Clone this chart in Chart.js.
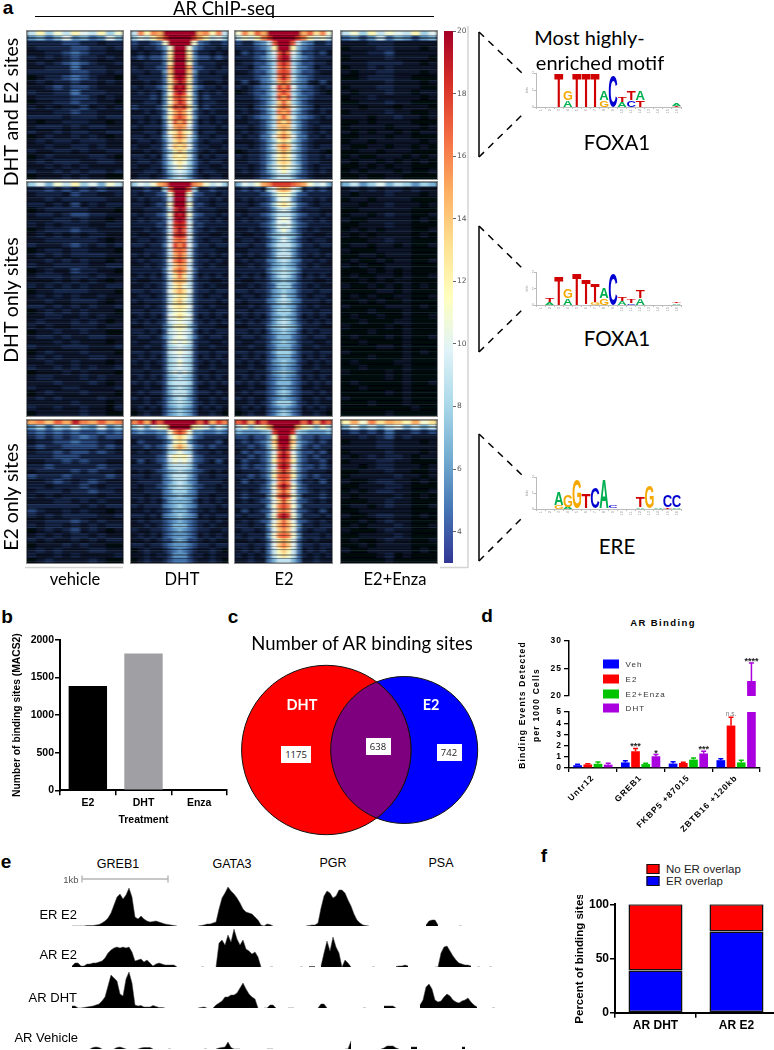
<!DOCTYPE html>
<html>
<head>
<meta charset="utf-8">
<script src="https://cdn.jsdelivr.net/npm/chart.js@4"></script>
<style>
  html, body { margin: 0; padding: 0; background: #fff; }
  #page { position: relative; width: 774px; height: 1050px; overflow: hidden; font-family: "Liberation Sans", Arial, sans-serif; }
  canvas { position: absolute; }
  .heat { position: absolute; overflow: hidden; background: #0a1020; outline: 1px solid #8a8a8a; }
  .heat canvas { left: 0; top: 0; filter: url(#streak); }
  /* fine read streaks over the coarse cells */
  .heat::after { content: ""; position: absolute; left: 0; top: 0; right: 0; bottom: 0;
    background: repeating-linear-gradient(180deg, rgba(0,0,0,.38) 0 1px, transparent 1px 3px, rgba(150,190,230,.1) 3px 4px, rgba(0,0,0,.25) 4px 5px, transparent 5px 6px, rgba(0,0,0,.45) 6px 8px, rgba(150,190,230,.08) 8px 9px, transparent 9px 11px, rgba(0,0,0,.3) 11px 12px, transparent 12px 14px, rgba(0,0,0,.4) 14px 15px, rgba(150,190,230,.12) 15px 16px, transparent 16px 19px, rgba(0,0,0,.32) 19px 21px, transparent 21px 23px); }
  .txt { position: absolute; white-space: nowrap; transform: translate(-50%, -50%); }
  .box { position: absolute; background: #fff; text-align: center; color: #222; font: 9.5px "Open Sans", sans-serif; }
</style>
</head>
<body>
<div id="page">
  <svg width="774" height="1050" style="position:absolute;left:0;top:0" fill="none" stroke="#000">
    <defs><filter id="streak" x="0" y="0" width="100%" height="100%"><feGaussianBlur stdDeviation="1.6 0.5" edgeMode="duplicate"/></filter></defs>
    <path d="M35 16.5H434" stroke-width="1"/>
    <path d="M479 32V157M479 226V352M479 434V561" stroke-width="1.6" stroke="#111"/>
    <path d="M479 32L522 73M479 157L522 115M479 226L522 268M479 352L522 310M479 434L522 475M479 561L522 518" stroke-width="1.5" stroke-dasharray="7 6"/>
    <path d="M468 26V568M440 567.5H468M25 567.5H123" stroke="#d4d4d4" stroke-width="1.5"/>
    <path d="M82 875.5V882.5M168 875.5V882.5" stroke="#999" stroke-width="1"/>
    <path d="M82 879H168" stroke="#b4b4b4" stroke-width="1.5"/>
  </svg>
</div>
<script>
// ---- panel a: heatmap rows, one char per cell, base36 = level on the colour bar (0-20)
const vehTop = ["9c8b9ca9c8b","6757a6756a7","33334433233","23333443323","22334543322","32323433232","23234543223","22333533322","33333443323","12334543221","23233433232","22343443222","32233533322","23333443232","12233433221","32323342323","22233433222","33332333233","21223332212","23332323322","32232332233","12322323212","23233233322","22322332322","32233232233","12322223321","23233322332","22323232222","32232323323","12223232211"];
const dhtTop = ["9gcgfkkkkkkkfgcg9","8a9cfikkkkkifc9a8","43345bkkkkkb54334","323346bkkkb643323","232335ckkkc533232","343446dkkkd644343","223335ckkkc533322","323345fkkkf543323","332336ekkke633233","233335djkjd533332","223235chkic532232","323346dkjkd643323","232325bikib523232","333436chigc634333","223325bgjhb523322","433347dihid734333","223235bfhfb532322","332336cgigc633233","232325bhfhb523232","323335afgfa533323","223325bdgdb523322","332336aegea633233","2332359dfd9532332","322335aedea533223","2232358cec8532322","3323259dcd9523233","2332358bdb8532332","3223358aca8533223","22332479a97423322","23323468986432332"];
const e2Top = ["bgdhfkkkkkkkfhdgb","9bacgikkkkkigcab9","433569hkkkh965334","333457ckkkc754333","243447ahkha744342","3334579ikj9754333","2334468hjh8644332","3324569gig9654233","2234468hih8644322","3334569gjg9654333","2423568fhf8653242","323456aigia654323","1234468gig8644321","3334569hfh9654333","2223468ehe8643222","332457afhfa754233","2323468gfg8643232","3234569ehe9654323","2233468fdf8643322","3323469efe9643233","2323468dfd8643232","323356aegea653323","2223468cec8643222","3323469ege9643233","1233468dfd8643321","3233469cec9643323","2233468ded8643322","3323479bdb9743233","2323468aca8643232","22234579997543222"];
const enzaTop = ["9b8c9ba9c8a","56469576467","22233322222","12223322212","22233422222","12222322221","22233332212","12232322222","21223322212","11233322111","22222322212","12223322211","21222322122","12232222212","11222322111","22122212221","12222322112","22212232212","11212222111","12222122212","21212212122","11222122111","12212222212","21122122121","11221222111","12112221212","21221212121","11212122111","12122212112","11211221111"];
const vehMid = ["8a7b9c8a7b9","33434343433","23332433223","22323333322","33232423233","12333332221","23323443322","22233232212","32323332233","12333433222","23232323322","22333333212","32223432323","12332332221","23232333322","22323232212","32233332233","12322433221","23332332322","22232323212","32323232233","12233332221","23232322322","22322333212","33232323223","12323232221","22332232322","23222323212","32322333233","12232232211","23323223322","22232322212","32223332223","12322232221","23232223322","22322322212","32232323223","12223232221","23322232322","22232223212","32223322223","12322232221","23232222322","22222322212","32232232213","12222232211"];
const dhtMid = ["8a9bfgkkkkkgfb9a8","334338hkkkh833433","323345bkkkb543323","2323349kkk9433232","332344bkkkb443233","2233349ikj9433322","323345bkjkb543323","2323349jkj9433232","333344aijia443333","2232349hkh9432322","322334aijia433223","2332349ghg9432332","332335aigia533233","2233349ghg9433322","3232349fhf9432323","232334agiga433232","2232349egf9432322","333335afhfa533333","2323249dgd9423232","3223349efe9433223","2232349ceb9432322","332334adfda433233","2332349bdc9432332","3233349ceb9433323","223234acdca432322","3323349bcb9433233","232324abdba423232","3232349aba9432323","2233358bcb8533322","3323249aba9423233","2332358aba8532332","3223349bab9433223","22322489a98422322","3323349aba9433233","23232489a98423232","32323489b98432323","22322489a98422322","3323348a9a8433233","23232478987423232","32323489998432323","22322478987422322","23233479997433232","32322468986422323","22323478987432322","23232467876423232","12322467876422321"];
const e2Mid = ["7a9bfgiiiihgfb9a7","343438aefea834343","3333458bcb8543333","2323346aba6433232","3323458bdb8543233","22333469a96433322","32334579997543323","2323346aba6433232","3333457a9a7543333","22323469b96432322","32233578987533223","23323468a86432332","33233579997533233","22333468986433322","32323469996432323","23233568986533232","22323467876432322","33333578987533333","23232468986423232","32233467876433223","22323458885432322","33233467876433233","23323467976432332","32333568986533323","22323467876432322","33233468886433233","23232467876423232","32323468986432323","22333578987533322","33232467876423233","23323457775432332","32233467876433223","22322457775422322","33233468886433233","23232457775423232","32323467876432323","22322456765422322","33233467876433233","23232456765423232","32323457775432323","22322456765422322","23233457875433232","32322456765422323","22323468886432322","23232456765423232","12322457875422321"];
const enzaMid = ["7968a798687","23232332322","21222322212","12212222111","22122322212","11222222111","12212322112","21122222121","11222322111","12121222112","21212222121","11122322111","12212212112","21112222111","11221222111","12112122112","21211222111","11121212111","12112212112","11212122111","21121212121","11112212111","12121122112","11212112111","21111222121","11121112111","12112112112","11211122111","21111212111","11121112111","12111212112","11211112111","11112212111","21111112121","11121112111","12111122111","11211112111","21111212111","11111212111","12111112112","11211112111","11111212111","21111112111","11121112111","11111111211","11111211111"];
const vehLow = ["fgehfjgfhfg","68587a76a68","45454544545","34343454344","23344544332","34334444343","23343443432","33344433333","22334343322","33433333433","23333434332","43334333343","22343234322","33233343233","23332334332","32323333233","22233232322","33333323233","43223232212","32323333223","22333432322","32332323233","12323423212","23232332322","32322323233","12223232211","23232223322","32232322223","12322223211"];
const dhtLow = ["gifkhkkkkkkkhkfig","8a7abckkkkkcba7a8","565566bgigb665565","3333459cec9543333","2433346bdb6433342","3343459dfd9543433","23233489b98433232","333345acbca543333","2423459bab9543242","33333589998533333","23234578987543232","33233579997533233","23333568986533332","32334578987543323","22333568886533322","33233567876533233","23232467776423232","32333567876533323","22323457775432322","33232567876523233","23233456765433232","22323457775432322","32233456765433223","23232456665423232","22323446764432322","33233456665433233","12322345654322321","22323346664332322","12322345554322321"];
const e2Low = ["hjfkhkkkkkkkhkfjh","9b8bcfkkkkkfcb8b9","766678ikkki876667","443446ckkkc644344","343457ekkke754343","334347cjkjc743433","243446ahkha644342","334346bikib643433","243346chjhc643342","343446aikia644343","233346bgjgb643332","334346chihc643433","2423359gig9533242","333346bhkhb643333","232345afifa543232","343336bhjhb633343","232345aeiea543232","333336bgigb633333","242345afhfa543242","323336bikib633323","232345aehea543232","332336bfhfb633233","233235aegea532332","323336bghgb633323","223235adfda532322","332335aegea533233","2323259cec9523232","3232359bdb9532323","22322579997522322"];
const enzaLow = ["cfbgdfecfbd","7a7979a7979","34343533434","22323423222","12223322212","22223322222","12222322212","21232332122","12223322111","22123322212","11222322112","12222232212","21123322121","11222332111","12123322112","21222232121","11122322111","12212322112","11222222111","21123322121","11212322111","12122232112","21112322111","11222232111","12112322112","11212222111","21122222121","11112312111","11111211111"];

const heatStops = [[0,"#000000"],[1,"#05070f"],[2,"#0b1329"],[3,"#162648"],[4,"#2a4a7e"],[5,"#4270a8"],[6.4,"#6aa3cd"],[8.1,"#a4d4e7"],[9.8,"#e0f3f8"],[11.5,"#ffffbf"],[13.2,"#fee090"],[14.9,"#fdae61"],[16.6,"#f46d43"],[18.3,"#d73027"],[20,"#a50026"]];
const colorbarStops = [[3,"#313695"],[4.7,"#4575b4"],[6.4,"#74add1"],[8.1,"#abd9e9"],[9.8,"#e0f3f8"],[11.5,"#ffffbf"],[13.2,"#fee090"],[14.9,"#fdae61"],[16.6,"#f46d43"],[18.3,"#d73027"],[20,"#a50026"]];
const colorbarTicks = [4,6,8,10,12,14,16,18,20];

// ---- motif logos, low letter then the one stacked on it, height in bits
const motifPositions = ["1","2","3","4","5","6","7","8","9","10","11","12","13","14","15","16"];
const motif1Low = ["T","","T","A","T","T","T","G","C","A","C","T","T","","","T"];
const motif1LowBits = [0.05,0,2,0.4,2,2,2,0.4,1.85,0.3,0.4,0.4,0.05,0,0,0.08];
const motif1Top = ["","","","G","","","","A","","T","T","A","","","","A"];
const motif1TopBits = [0,0,0,0.55,0,0,0,0.55,0,0.3,0.5,0.55,0,0,0,0.14];
const motif2Low = ["","A","T","A","T","G","G","G","C","A","C","A","","","","A"];
const motif2LowBits = [0,0.2,1.73,0.42,1.95,0.05,0.2,0.4,1.9,0.22,0.12,0.45,0,0,0,0.1];
const motif2Top = ["","T","","G","","T","T","A","","T","T","T","","","","T"];
const motif2TopBits = [0,0.2,0,0.55,0,1.45,1.1,0.65,0,0.2,0.25,0.5,0,0,0,0.08];
const motif3Low = ["","","G","A","T","A","G","G","G","","","A","A","A","T","A"];
const motif3LowBits = [0,0,0.28,0.15,0.05,0.08,0.05,0.06,0.05,0,0,0.12,0.08,0.1,0.12,0.1];
const motif3Top = ["","","A","G","G","T","C","A","C","","","T","G","","C","C"];
const motif3TopBits = [0,0,0.78,0.7,1.75,0.92,1.28,1.78,0.15,0,0,0.62,1.4,0,0.7,0.7];

// ---- panel b
const treatments = ["E2","DHT","Enza"];
const bindingSites = [1388,1822,0];
const treatmentColors = ["#000000","#a0a0a4","#000000"];

// ---- panel c
const vennX = [91.3,169.2];
const vennY = [92,92];
const vennR = [84.7,73.5];

// ---- panel d
const loci = ["Untr12","GREB1","FKBP5 +87015","ZBTB16 +120kb"];
const treatNames = ["Veh","E2","E2+Enza","DHT"];
const vehEvents = [0.25,0.5,0.4,0.7];
const e2Events = [0.32,1.5,0.45,3.8];
const enzaEvents = [0.38,0.35,0.75,0.5];
const dhtEvents = [0.3,1.05,1.3,22.7];
const vehErr = [0.08,0.15,0.15,0.12];
const e2Err = [0.05,0.25,0.06,0.75];
const enzaErr = [0.15,0.08,0.15,0.2];
const dhtErr = [0.12,0.15,0.2,3.3];
const e2Sig = ["","***","","n.s."];
const dhtSig = ["","*","***","****"];

// ---- panel e, tracks on a shared bin axis, _ = no reads
const _ = null;
const trackBins = Array.from({length:144},(v,i)=>i);
const erE2Track = [0,0,0,0,0,.5,.5,.5,1,1.5,3,5,8,13,21,29,32,27,31,38,29,9,7,10,7,5,4,4.5,5,4,3,2,1.5,1,.5,0,
  _,_,_,_,_,_, 0,.5,1,2,2,3,4,17,28,33,39,35,32,28,23,17,14,13,12,9,6,1,0,2,1.5,0,
  _,_,_,_,_,_,_,_,_,_, 0,.5,1,1,3,18,30,35,33,28,30,36,36,33,26,20,12,6,3,1,.5,0,
  _,_,_,_,_,_,_,_,_,_,_,_,_,_,_,_,_,_, 1,5,6,6,1, _,_,_,_,_,_, 0,0, _,_,_,_,_,_,_,_,_,_,_,_,_];
const arE2Track = [1,4,4,1,1,3,3,4,4,5,6,9,14,17,19,20,19,20,19,20,15,6,7,8,5,7,4,1,3,4,3,2,2,2,2,0,
  _,_,_,_,_,_,_, 0,0, _,_,_, 0,24,27,22,32,25,38,28,22,27,18,16,13,15,10,0, _,_, 0,0, _,_,_,_,_,_,_,_, 0,0, _, .5,.5,.5, _,
  1,14,26,16,30,20,14,0,7,4,0, _,_,_,_,_,_, 0,0, _,_,_,_,_,_, .5,1,1,2,1, _,_,_,_,_,_,_,_, 0,
  0,14,20,21,16,11,7,4,3,2,2,1, _, 0,0, _,_, 0,0, _,_,_];
const arDhtTrack = [2,2,0,0,.5,1,1.5,2,3,4,7,11,22,33,30,27,14,12,29,36,25,3,2,2.5,1,1,1,2.5,1.5,.5,.5,0,
  _,_,_, 0, _,_,_,_,_,_, 0,.5,1,0, _, 0, 3,5,7,11,11,13,13,15,20,25,19,14,11,9,0, _, 0, 0,3,3,0, _,_,_, 0,0,0,
  _,_,_,_,_,_,_, 0,4,4,0, _,_,_,_,_,_,_,_,_,_,_, 0,0, _,_,_,_,_, 2,2,2,2,0, _,_,_,_,_,_,_,
  3,8,21,24,19,8,6,7,11,14,12,8,6,5,7,8,10,6,3,1, _,_,_,_, 0,0, _,_];
const arVehTrack = [_,_,_,_,_,_, 0,1.5,2,1.5,0, _,_,_, 0,1.5,2,1,0, _,_,_, 0,1,1.5,1.5,1.5,0, _,_,_,_, 0,0,
  _,_,_,_,_,_,_,_,_,_, 0,0, _,_, 0,1,1.5,2,7,1.5,0, 0,0, _,_,_,_,_,_,_,_, 0,0,0,
  _,_,_,_,_,_,_,_,_,_,_,_,_,_,_,_,_,_,_,_,_,_,_, 0,0,8, _,_,_,_,_,_,_,_,_, 0,1,3,3,3,1,0, _,_,_, 2,2,2,
  _,_,_,_,_,_,_,_,_,_,_,_,_,_, 2,2, _,_,_,_,_,_,_,_,_,_,_,_];

// ---- panel f
const samples = ["AR DHT","AR E2"];
const erOverlap = [39,75];
const noErOverlap = [61,25];

Chart.defaults.animation = false;
Chart.defaults.responsive = false;
Chart.defaults.font.family = '"Liberation Sans", Arial, sans-serif';
Chart.defaults.color = "#000";
Chart.defaults.plugins.legend.display = false;
Chart.defaults.plugins.tooltip.enabled = false;

const page = document.getElementById("page");

function addText(text, x, y, css) {
  const d = document.createElement("div");
  d.className = "txt";
  d.textContent = text;
  d.style.left = x + "px";
  d.style.top = y + "px";
  d.style.cssText += ";" + (css || "");
  page.appendChild(d);
  return d;
}

function addCanvas(left, top, width, height, parent) {
  const c = document.createElement("canvas");
  c.width = width;
  c.height = height;
  c.style.left = left + "px";
  c.style.top = top + "px";
  c.style.width = width + "px";
  c.style.height = height + "px";
  (parent || page).appendChild(c);
  return c;
}

function hexToRgb(h) {
  return [parseInt(h.slice(1,3),16), parseInt(h.slice(3,5),16), parseInt(h.slice(5,7),16)];
}

function levelColor(level) {
  for (let i = 1; i < heatStops.length; i++) {
    if (level <= heatStops[i][0]) {
      const a = heatStops[i-1], b = heatStops[i];
      const t = (level - a[0]) / (b[0] - a[0]);
      const ca = hexToRgb(a[1]), cb = hexToRgb(b[1]);
      return "rgb(" + ca.map((v,k) => Math.round(v + (cb[k]-v)*t)).join(",") + ")";
    }
  }
  return "#a50026";
}

function heatPanel(rows, left, top, width, height) {
  const wrap = document.createElement("div");
  wrap.className = "heat";
  wrap.style.cssText = "left:"+left+"px;top:"+top+"px;width:"+width+"px;height:"+height+"px";
  page.appendChild(wrap);
  const cols = rows[0].length;
  const datasets = [];
  // 17-column panels have finer bins round the peak centre
  const binWidth = c => (cols === 17 && (c < 5 || c > 11)) ? 1.3 : 1;
  let total = 0;
  for (let c = 0; c < cols; c++) {
    total += binWidth(c);
    datasets.push({
      data: rows.map(() => binWidth(c)),
      backgroundColor: rows.map(r => levelColor(parseInt(r[c] || "1", 36))),
      barPercentage: 1,
      categoryPercentage: 1,
      borderWidth: 0
    });
  }
  new Chart(addCanvas(0, 0, width, height, wrap), {
    type: "bar",
    data: { labels: rows.map((r,i) => i), datasets: datasets },
    options: {
      indexAxis: "y",
      layout: { padding: 0 },
      scales: {
        x: { display: false, stacked: true, min: 0, max: total },
        y: { display: false, stacked: true }
      }
    }
  });
}

const heatX = [[27,96],[131,97],[235,97],[341,96]];
const heatY = [[31,148],[182,234],[420,143]];
const heatRows = [
  [vehTop,dhtTop,e2Top,enzaTop],
  [vehMid,dhtMid,e2Mid,enzaMid],
  [vehLow,dhtLow,e2Low,enzaLow]
];
heatRows.forEach((blk,b) => blk.forEach((rows,p) => {
  heatPanel(rows, heatX[p][0], heatY[b][0], heatX[p][1], heatY[b][1]);
}));

// colour bar
new Chart(addCanvas(444, 25, 30, 545), {
  type: "bar",
  data: { labels: ["level"], datasets: [{
    data: [[3,20]],
    barPercentage: 1,
    categoryPercentage: 1,
    backgroundColor: function(ctx) {
      const area = ctx.chart.chartArea;
      if (!area) return "#000";
      const g = ctx.chart.ctx.createLinearGradient(0, area.bottom, 0, area.top);
      colorbarStops.forEach(s => g.addColorStop((s[0]-3)/17, s[1]));
      return g;
    }
  }]},
  options: {
    layout: { padding: { top: 6, bottom: 7 } },
    scales: {
      x: { display: false },
      y: {
        position: "right", min: 3, max: 20,
        afterBuildTicks: s => { s.ticks = colorbarTicks.map(v => ({value:v})); },
        afterFit: s => { s.width = 21; },
        grid: { drawOnChartArea: false, tickLength: 3, color: "#666" },
        border: { display: false },
        ticks: { color: "#555", padding: 1, font: { family: "DejaVu Sans", size: 7.5 } }
      }
    }
  }
});

// motif logos: bars stay invisible, letters get stretched into the bar boxes
const letterColors = { A:"#00b050", C:"#0000d0", G:"#f5a800", T:"#d00000" };
const letterPlugin = {
  id: "letters",
  afterDatasetsDraw(chart) {
    const ctx = chart.ctx;
    chart.data.datasets.forEach((ds,i) => {
      chart.getDatasetMeta(i).data.forEach((bar,j) => {
        const letter = ds.letters[j];
        const h = bar.base - bar.y;
        if (!letter || h < 0.8) return;
        ctx.save();
        ctx.font = "bold 40px 'Liberation Sans'";
        const m = ctx.measureText(letter);
        const lw = m.actualBoundingBoxRight + m.actualBoundingBoxLeft;
        const lh = m.actualBoundingBoxAscent + m.actualBoundingBoxDescent;
        ctx.translate(bar.x - bar.width/2, bar.base);
        ctx.scale(bar.width/lw, h/lh);
        ctx.fillStyle = letterColors[letter];
        ctx.fillText(letter, m.actualBoundingBoxLeft, -m.actualBoundingBoxDescent);
        ctx.restore();
      });
    });
  }
};

function motifChart(low, lowBits, top, topBits, y2, y0) {
  new Chart(addCanvas(524, y2-4, 166, y0-y2+18), {
    type: "bar",
    data: { labels: motifPositions, datasets: [
      { data: lowBits, letters: low, backgroundColor: "transparent", barPercentage: 1, categoryPercentage: 0.98 },
      { data: topBits, letters: top, backgroundColor: "transparent", barPercentage: 1, categoryPercentage: 0.98 }
    ]},
    options: {
      layout: { padding: { top: 4, right: 9 } },
      scales: {
        x: {
          stacked: true,
          afterFit: s => { s.height = 14; },
          grid: { drawOnChartArea: false, tickLength: 2, color: "#bbb" },
          border: { color: "#bbb" },
          ticks: { color: "#999", autoSkip: false, maxRotation: 90, minRotation: 90, padding: 0, font: { size: 4 } }
        },
        y: {
          stacked: true, min: 0, max: 2,
          afterFit: s => { s.width = 12; },
          grid: { drawOnChartArea: false, tickLength: 2, color: "#bbb" },
          border: { color: "#bbb" },
          title: { display: true, text: "bits", color: "#999", padding: 0, font: { size: 4 } },
          ticks: { color: "#999", stepSize: 1, padding: 0, font: { size: 4 } }
        }
      }
    },
    plugins: [letterPlugin]
  });
}
motifChart(motif1Low, motif1LowBits, motif1Top, motif1TopBits, 73, 107);
motifChart(motif2Low, motif2LowBits, motif2Top, motif2TopBits, 272, 305);
motifChart(motif3Low, motif3LowBits, motif3Top, motif3TopBits, 477, 509);

// panel b
new Chart(addCanvas(0, 630, 230, 200), {
  type: "bar",
  data: { labels: treatments, datasets: [{ data: bindingSites, backgroundColor: treatmentColors, barPercentage: 0.69, categoryPercentage: 1 }] },
  options: {
    layout: { padding: { top: 10, right: 3 } },
    scales: {
      x: {
        afterFit: s => { s.height = 39.7; },
        grid: { drawOnChartArea: false, tickLength: 5, color: "#000", lineWidth: 1.5 },
        border: { color: "#000", width: 2 },
        ticks: { font: { size: 10.5, weight: "bold" }, padding: 2 },
        title: { display: true, text: "Treatment", padding: { top: 0, bottom: 4 }, font: { size: 10.5, weight: "bold" } }
      },
      y: {
        min: 0, max: 2000,
        afterFit: s => { s.width = 60; },
        grid: { drawOnChartArea: false, tickLength: 5, color: "#000", lineWidth: 1.5 },
        border: { color: "#000", width: 2 },
        ticks: { stepSize: 500, padding: 1, callback: v => v, font: { size: 10.5, weight: "bold" } },
        title: { display: true, text: "Number of binding sites (MACS2)", padding: { top: 11, bottom: 0 }, font: { size: 10.3, weight: "bold" } }
      }
    }
  }
});

// panel c, overlap lens is clipped from the two bubbles
const vennPlugin = {
  id: "vennLens",
  afterDatasetsDraw(chart) {
    const a = chart.getDatasetMeta(0).data[0];
    const b = chart.getDatasetMeta(1).data[0];
    const ctx = chart.ctx;
    ctx.save();
    ctx.beginPath();
    ctx.arc(a.x, a.y, a.options.radius, 0, Math.PI*2);
    ctx.clip();
    ctx.beginPath();
    ctx.arc(b.x, b.y, b.options.radius, 0, Math.PI*2);
    ctx.fillStyle = "#7f007f";
    ctx.fill();
    ctx.strokeStyle = "#111";
    ctx.lineWidth = 1;
    ctx.stroke();
    ctx.restore();
    ctx.save();
    ctx.beginPath();
    ctx.arc(b.x, b.y, b.options.radius, 0, Math.PI*2);
    ctx.clip();
    ctx.beginPath();
    ctx.arc(a.x, a.y, a.options.radius, 0, Math.PI*2);
    ctx.strokeStyle = "#111";
    ctx.lineWidth = 1;
    ctx.stroke();
    ctx.restore();
  }
};
new Chart(addCanvas(235, 652, 260, 190), {
  type: "bubble",
  data: { datasets: [
    { data: [{x:vennX[0],y:vennY[0],r:vennR[0]}], backgroundColor: "#ff0000", borderColor: "#111", borderWidth: 1, clip: false },
    { data: [{x:vennX[1],y:vennY[1],r:vennR[1]}], backgroundColor: "#0000ff", borderColor: "#111", borderWidth: 1, clip: false }
  ]},
  options: {
    layout: { padding: 0, autoPadding: false },
    scales: {
      x: { display: false, min: 0, max: 260 },
      y: { display: false, min: 0, max: 190 }
    }
  },
  plugins: [vennPlugin]
});

// panel d, the broken axis is two charts on top of each other
const dSeriesColors = ["#0000ff","#ff0000","#00c400","#aa00e0"];
const dSeries = [vehEvents,e2Events,enzaEvents,dhtEvents];
const dErrors = [vehErr,e2Err,enzaErr,dhtErr];
const dSig = [[],e2Sig,[],dhtSig];

const errorPlugin = {
  id: "errorBars",
  beforeDraw(chart) { chart.ctx.letterSpacing = "1px"; },
  afterDatasetsDraw(chart) {
    const ctx = chart.ctx, yS = chart.scales.y, area = chart.chartArea;
    ctx.letterSpacing = "0px";
    chart.data.datasets.forEach((ds,i) => {
      chart.getDatasetMeta(i).data.forEach((bar,j) => {
        const top = dSeries[i][j] + dErrors[i][j];
        const onScale = top >= yS.min && top <= yS.max;
        ctx.save();
        ctx.beginPath();
        ctx.rect(area.left, area.top-2, area.width, area.height+2);
        ctx.clip();
        ctx.strokeStyle = ds.backgroundColor;
        ctx.lineWidth = 1.5;
        const y = yS.getPixelForValue(top);
        const y0 = yS.getPixelForValue(dSeries[i][j]);
        ctx.beginPath();
        ctx.moveTo(bar.x, y0);
        ctx.lineTo(bar.x, y);
        ctx.moveTo(bar.x-2.5, y);
        ctx.lineTo(bar.x+2.5, y);
        ctx.stroke();
        ctx.restore();
        const sig = dSig[i][j];
        if (sig && onScale) {
          ctx.save();
          ctx.textAlign = "center";
          ctx.fillStyle = sig === "n.s." ? "#777" : "#222";
          ctx.font = sig === "n.s." ? "6.5px 'Liberation Sans'" : "bold 9px 'Liberation Sans'";
          ctx.fillText(sig, bar.x, y + (sig === "n.s." ? -1 : 1));
          ctx.restore();
        }
      });
    });
    ctx.letterSpacing = "1px";
  }
};

function dDatasets() {
  return dSeries.map((values,i) => ({
    label: treatNames[i], data: values, backgroundColor: dSeriesColors[i],
    barPercentage: 0.85, categoryPercentage: 0.855
  }));
}
new Chart(addCanvas(500, 630, 265, 73), {
  type: "bar",
  data: { labels: loci, datasets: dDatasets() },
  options: {
    layout: { padding: { top: 11, right: 5, bottom: 3.3 } },
    scales: {
      x: { display: false },
      y: {
        min: 20, max: 30,
        afterFit: s => { s.width = 69; },
        grid: { drawOnChartArea: false, tickLength: 5, color: "#000", lineWidth: 1.3 },
        border: { color: "#000", width: 1.5 },
        ticks: { stepSize: 5, padding: 2, font: { size: 8.5, weight: "bold" } }
      }
    }
  },
  plugins: [errorPlugin]
});
new Chart(addCanvas(500, 705, 265, 137), {
  type: "bar",
  data: { labels: loci, datasets: dDatasets() },
  options: {
    layout: { padding: { top: 4.3, right: 5 } },
    scales: {
      x: {
        afterFit: s => { s.height = 74; },
        grid: { drawOnChartArea: false, tickLength: 4, color: "#000", lineWidth: 1.3 },
        border: { color: "#000", width: 1.5 },
        ticks: { autoSkip: false, maxRotation: 45, minRotation: 45, padding: 1, font: { size: 8.5, weight: "bold" } }
      },
      y: {
        min: 0, max: 5,
        afterFit: s => { s.width = 69; },
        grid: { drawOnChartArea: false, tickLength: 5, color: "#000", lineWidth: 1.3 },
        border: { color: "#000", width: 1.5 },
        ticks: { stepSize: 1, autoSkip: false, padding: 2, font: { size: 8.5, weight: "bold" } }
      }
    }
  },
  plugins: [errorPlugin]
});

// panel e, one line chart per row of tracks
function trackRow(values, baseline) {
  new Chart(addCanvas(72, baseline-45, 429, 45), {
    type: "line",
    data: { labels: trackBins, datasets: [{
      data: values, fill: "origin", backgroundColor: "#000", borderColor: "#444",
      borderWidth: 0.5, pointRadius: 0, spanGaps: false, clip: false
    }]},
    options: {
      layout: { padding: 0, autoPadding: false },
      scales: {
        x: { display: false },
        y: { display: false, min: 0, max: 45 }
      }
    }
  });
}
trackRow(erE2Track, 925.5);
trackRow(arE2Track, 966.5);
trackRow(arDhtTrack, 1007.5);
trackRow(arVehTrack, 1049);

// panel f
new Chart(addCanvas(540, 895, 237, 145), {
  type: "bar",
  data: { labels: samples, datasets: [
    { data: erOverlap, backgroundColor: "#0000ff", borderColor: "#111", borderWidth: 1.5, borderSkipped: false, barPercentage: 0.667, categoryPercentage: 1 },
    { data: noErOverlap, backgroundColor: "#ff0000", borderColor: "#111", borderWidth: 1.5, borderSkipped: false, barPercentage: 0.667, categoryPercentage: 1 }
  ]},
  options: {
    layout: { padding: { top: 9.3 } },
    scales: {
      x: {
        stacked: true,
        afterFit: s => { s.height = 27.3; },
        grid: { drawOnChartArea: false, tickLength: 5, color: "#000", lineWidth: 1.5 },
        border: { color: "#000", width: 2 },
        ticks: { padding: 1, font: { size: 12, weight: "bold" } }
      },
      y: {
        stacked: true, min: 0, max: 100,
        afterFit: s => { s.width = 75; },
        grid: { drawOnChartArea: false, tickLength: 5, color: "#000", lineWidth: 1.5 },
        border: { color: "#000", width: 2 },
        ticks: { stepSize: 50, padding: 1, font: { size: 12, weight: "bold" } },
        title: { display: true, text: "Percent of binding sites", padding: { top: 33, bottom: 0 }, font: { size: 11.5, weight: "bold" } }
      }
    }
  }
});

// text labels
const bold19 = "font-weight:bold;font-size:19px;";
addText("a", 8, 8, bold19);
addText("b", 7, 617, bold19);
addText("c", 233, 617, bold19);
addText("d", 487, 616, bold19);
addText("e", 6, 862, bold19);
addText("f", 544, 856, bold19);

addText("AR ChIP-seq", 224, 8, "font:18.5px Lato");
addText("DHT and E2 sites", 10, 112, "font:19.5px Lato;transform:translate(-50%,-50%) rotate(-90deg)");
addText("DHT only sites", 10, 300, "font:19.5px Lato;transform:translate(-50%,-50%) rotate(-90deg)");
addText("E2 only sites", 10, 497, "font:19.5px Lato;transform:translate(-50%,-50%) rotate(-90deg)");
addText("vehicle", 75, 579, "font:16.5px Lato");
addText("DHT", 182, 579, "font:16.5px Lato");
addText("E2", 284, 579, "font:16.5px Lato");
addText("E2+Enza", 395, 579, "font:16.5px Lato");
addText("Most highly-", 589.5, 37, "font:20px Lato");
addText("enriched motif", 600, 62, "font:20px Lato");
addText("FOXA1", 617, 142, "font:20.5px Lato");
addText("FOXA1", 617, 338, "font:20.5px Lato");
addText("ERE", 617, 546, "font:20.5px Lato");

addText("Number of AR binding sites", 362, 643, "font:18.5px Lato");
addText("DHT", 302, 704, "font:bold 14.5px Lato;color:#fff");
addText("E2", 431, 704, "font:bold 14.5px Lato;color:#fff");
function countBox(text, cx, cy, w, h) {
  const d = document.createElement("div");
  d.className = "box";
  d.textContent = text;
  d.style.cssText = "left:"+(cx-w/2)+"px;top:"+(cy-h/2)+"px;width:"+w+"px;height:"+h+"px;line-height:"+h+"px";
  page.appendChild(d);
}
countBox("1175", 296, 754, 30, 17);
countBox("638", 378, 746, 25, 17);
countBox("742", 449, 752.5, 25, 17);

const spaced = "font-weight:bold;letter-spacing:1.2px;font-size:8.5px;";
addText("AR Binding", 663, 622, "font-weight:bold;letter-spacing:1.4px;font-size:9.5px");
addText("Binding Events Detected", 522, 705, spaced + "transform:translate(-50%,-50%) rotate(-90deg)");
addText("per 1000 Cells", 535.5, 705, spaced + "transform:translate(-50%,-50%) rotate(-90deg)");
const dLegendY = [664,679,694,708];
treatNames.forEach((name,i) => {
  addText("", 611, dLegendY[i], "width:16px;height:9px;background:" + dSeriesColors[i]);
  addText(name, 625.5, dLegendY[i], "transform:translate(0,-50%);font-size:8px;letter-spacing:1.1px;color:#333");
});

addText("GREB1", 118, 864, "font-size:12.5px");
addText("GATA3", 232, 864, "font-size:12.5px");
addText("PGR", 333, 863, "font-size:12.5px");
addText("PSA", 441, 863, "font-size:12.5px");
addText("1kb", 71, 879, "font-size:9.5px;color:#555");
const rowRight = "transform:translate(-100%,-50%);font-size:13px";
addText("ER E2", 77, 914, rowRight);
addText("AR E2", 77, 954, rowRight);
addText("AR DHT", 77, 997, rowRight);
addText("AR Vehicle", 78, 1037, rowRight);

addText("", 653, 869, "width:11px;height:8px;background:#f00;border:1.5px solid #111");
addText("", 653, 881, "width:11px;height:8px;background:#00f;border:1.5px solid #111");
addText("No ER overlap", 666, 869, "transform:translate(0,-50%);font-size:11.5px;color:#222");
addText("ER overlap", 666, 881, "transform:translate(0,-50%);font-size:11.5px;color:#222");
</script>
</body>
</html>
